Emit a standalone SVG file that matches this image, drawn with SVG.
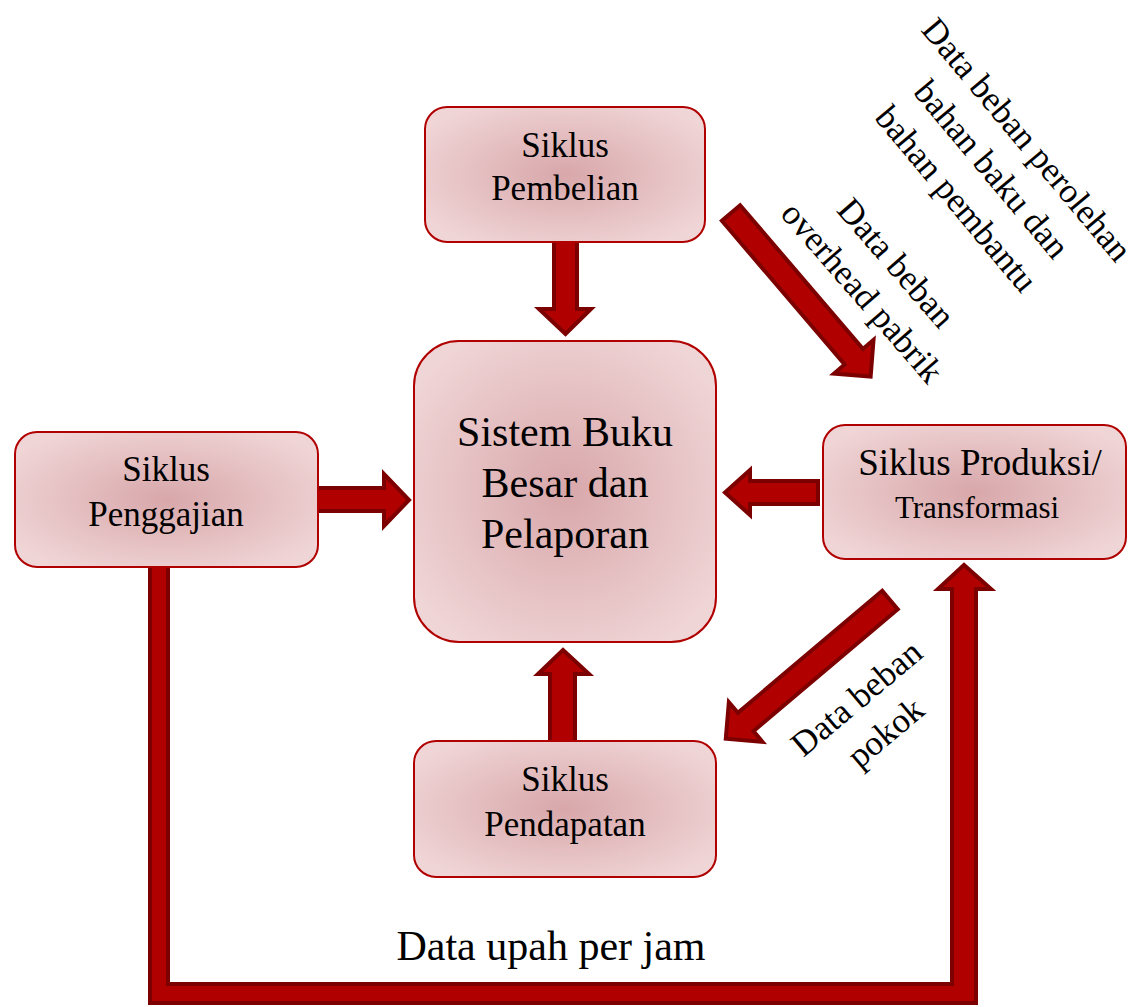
<svg xmlns="http://www.w3.org/2000/svg" width="1140" height="1007" viewBox="0 0 1140 1007">
<style>
.node{fill:url(#ng);stroke:#b00000;stroke-width:2}
.arr{fill:#b00000;stroke:#7d0000;stroke-width:4;stroke-linejoin:miter}
text{font-family:"Liberation Serif","DejaVu Serif",serif;fill:#000;text-anchor:middle}
.t{font-size:35px}
.big{font-size:42px}
.lbl{font-size:35px}
</style>
<defs>
<radialGradient id="ng" cx="50%" cy="50%" r="60%">
<stop offset="0" stop-color="#d8a7aa"/>
<stop offset="1" stop-color="#f0d5d6"/>
</radialGradient>
</defs>
<rect width="1140" height="1007" fill="#fff"/>
<g id="connectors">
<polygon class="arr" points="554,241 577,241 577,309 591,309 565.5,334 539,309 554,309"/>
<polygon class="arr" points="316,488 384,488 384,474 409,500 384,526 384,511 316,511"/>
<polygon class="arr" points="818,481 750,481 750,470 725,492.5 750,515 750,504 818,504"/>
<polygon class="arr" points="550,743 550,674 538,674 563,650 589,674 575,674 575,743"/>
<polygon class="arr" transform="translate(731,213) rotate(49.5)" points="0,-12 189,-12 189,-26 215,0 189,26 189,12 0,12"/>
<polygon class="arr" transform="translate(890,600) rotate(139.8)" points="0,-12 189,-12 189,-26 215,0 189,26 189,12 0,12"/>
<polygon class="arr" points="150,566 168,566 168,984 952,984 952,589 938,589 964,565 991,589 976,589 976,1003 150,1003"/>
</g>
<g id="n-pembelian">
<rect class="node" x="425" y="107" width="280" height="135" rx="22"/>
<text class="t" x="565" y="157">Siklus</text>
<text class="t" x="565" y="200">Pembelian</text>
</g>
<g id="n-sistem">
<rect class="node" x="414" y="341" width="302" height="301" rx="45"/>
<text class="big" x="565" y="446">Sistem Buku</text>
<text class="big" x="565" y="497">Besar dan</text>
<text class="big" x="565" y="548">Pelaporan</text>
</g>
<g id="n-penggajian">
<rect class="node" x="15" y="432" width="303" height="135" rx="22"/>
<text class="t" x="166" y="481">Siklus</text>
<text class="t" x="166" y="526">Penggajian</text>
</g>
<g id="n-produksi">
<rect class="node" x="823" y="425" width="303" height="134" rx="22"/>
<text x="980" y="475" style="font-size:37px">Siklus Produksi/</text>
<text x="977" y="518" style="font-size:31px">Transformasi</text>
</g>
<g id="n-pendapatan">
<rect class="node" x="414" y="741" width="302" height="136" rx="22"/>
<text class="t" x="565" y="791">Siklus</text>
<text class="t" x="565" y="836">Pendapatan</text>
</g>
<g id="labels">
<g transform="translate(992,169) rotate(50)">
<text class="lbl" x="0" y="-34">Data beban perolehan</text>
<text class="lbl" x="0" y="12">bahan baku dan</text>
<text class="lbl" x="0" y="58">bahan pembantu</text>
</g>
<g transform="translate(880,277) rotate(49)">
<text class="lbl" x="0" y="-10">Data beban</text>
<text class="lbl" x="0" y="35">overhead pabrik</text>
</g>
<g transform="translate(864,707) rotate(-40)">
<text class="lbl" x="0" y="0">Data beban</text>
<text class="lbl" x="0" y="45">pokok</text>
</g>
<text x="551" y="960" style="font-size:42px">Data upah per jam</text>
</g>
</svg>
